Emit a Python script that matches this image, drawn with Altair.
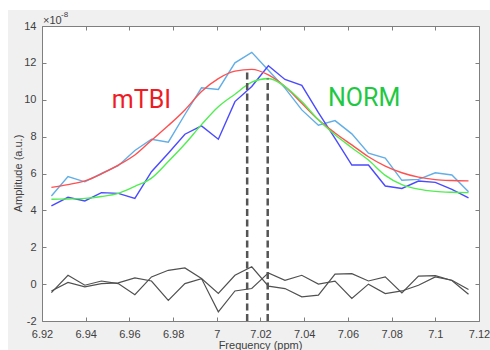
import altair as alt
import pandas as pd

# ---------------- data ----------------
freq = [6.9243, 6.9319, 6.9396, 6.9472, 6.9549, 6.9625, 6.9701, 6.9778, 6.9854, 6.9930,
        7.0007, 7.0083, 7.0160, 7.0236, 7.0312, 7.0389, 7.0465, 7.0541, 7.0618, 7.0694,
        7.0771, 7.0847, 7.0923, 7.1000, 7.1076, 7.1152]
mtbi_data = [4.78, 5.83, 5.55, 6.00, 6.42, 7.25, 7.86, 7.70, 9.20, 10.65, 10.56, 12.00, 12.57,
             11.60, 10.63, 9.45, 8.62, 8.87, 8.15, 7.10, 6.83, 5.63, 5.68, 6.04, 5.92, 5.01]
mtbi_fit = [5.25, 5.40, 5.60, 5.98, 6.45, 7.00, 7.80, 8.60, 9.45, 10.45, 11.15, 11.55, 11.65,
            11.35, 10.72, 9.81, 8.91, 8.20, 7.55, 6.91, 6.40, 6.04, 5.80, 5.67, 5.62, 5.60]
norm_data = [4.25, 4.71, 4.51, 4.96, 4.92, 4.65, 6.10, 7.10, 8.13, 8.58, 7.86, 9.90, 10.72,
             11.84, 11.10, 10.78, 9.30, 7.90, 6.46, 6.46, 5.32, 5.19, 5.59, 5.52, 5.14, 4.68]
norm_fit = [4.60, 4.62, 4.65, 4.75, 4.92, 5.30, 5.75, 6.65, 7.60, 8.65, 9.62, 10.30, 10.95,
            11.15, 10.72, 9.90, 8.91, 8.10, 7.40, 6.73, 5.90, 5.40, 5.15, 5.03, 4.98, 4.96]
resid_a = [-0.46, 0.48, -0.06, 0.17, 0.03, -0.57, 0.39, 0.75, 0.88, 0.30, -0.51, 0.48, 0.94,
           -0.11, -0.24, -0.69, -0.60, 0.54, 0.57, 0.17, 0.39, -0.48, 0.43, 0.46, 0.20, -0.55]
resid_b = [-0.37, 0.09, -0.15, 0.03, 0.07, 0.34, 0.17, -0.88, 0.03, 0.30, -1.50, -0.37, -0.24,
           0.61, 0.21, 0.48, 0.00, 0.16, -0.78, 0.00, -0.51, -0.37, -0.06, 0.39, 0.21, -0.29]

peak_freq = [7.0139, 7.0233]
peak_amp = [11.66, 11.15]
peak_base = [-2, -2]

label_text = ["mTBI", "NORM"]
label_freq = [6.9655, 7.0674]
label_amp = [9.97, 10.10]

x_ticks = [6.92, 6.94, 6.96, 6.98, 7.00, 7.02, 7.04, 7.06, 7.08, 7.10, 7.12]
y_ticks = [-2, 0, 2, 4, 6, 8, 10, 12, 14]

# ---------------- styling ----------------
FONT = "Liberation Sans"
TXT = "#404040"
FRAME = "#7f7f7f"

xs = alt.Scale(domain=[6.92, 7.12], nice=False, zero=False)
ys = alt.Scale(domain=[-2, 14], nice=False, zero=False)


def series_df(values):
    return pd.DataFrame({"freq": freq, "value": values})


def line(values, color, width=1.4, interp="linear"):
    return alt.Chart(series_df(values)).mark_line(
        color=color, strokeWidth=width, interpolate=interp
    ).encode(
        x=alt.X("freq:Q", scale=xs, axis=None),
        y=alt.Y("value:Q", scale=ys, axis=None),
    )


one = pd.DataFrame({"freq": [6.92], "value": [14]})

# figure-like white strips (top and left) over the grey figure background
strip_top = alt.Chart(one).mark_rect(color="white").encode(
    x=alt.value(-42), x2=alt.value(448), y=alt.value(-26), y2=alt.value(-16))
strip_left = alt.Chart(one).mark_rect(color="white").encode(
    x=alt.value(-42), x2=alt.value(-34), y=alt.value(-26), y2=alt.value(324))

# axis with labels (bottom/left)
label_axes = alt.Chart(series_df(mtbi_data)).mark_point(opacity=0).encode(
    x=alt.X("freq:Q", scale=xs, axis=alt.Axis(
        orient="bottom", values=x_ticks, labelExpr="format(datum.value, '.2~f')",
        ticks=False, domain=False, grid=False, labelPadding=7, labelFontSize=11,
        labelFont=FONT, labelColor=TXT, labelFlush=False, labelOverlap=False,
        title="Frequency (ppm)", titleFont=FONT, titleFontSize=11, titleFontWeight="normal",
        titleColor=TXT, titleX=218, titleY=24, titleBaseline="middle", zindex=1)),
    y=alt.Y("value:Q", scale=ys, axis=alt.Axis(
        orient="left", values=y_ticks, labelExpr="toString(datum.value)",
        ticks=False, domain=False, grid=False, labelPadding=6, labelFontSize=11,
        labelFont=FONT, labelColor=TXT, labelFlush=False, labelOverlap=False,
        title="Amplitude (a.u.)", titleFont=FONT, titleFontSize=11, titleFontWeight="normal",
        titleColor=TXT, titleX=-24, titleY=147, titleAlign="center", titleBaseline="middle",
        zindex=1)),
)

# inward ticks, bottom/left
ticks_bl = alt.Chart(series_df(mtbi_data)).mark_point(opacity=0).encode(
    x=alt.X("freq:Q", scale=xs, axis=alt.Axis(
        orient="bottom", offset=-4, values=x_ticks, labels=False, domain=False, grid=False,
        ticks=True, tickSize=4, tickColor=FRAME, title="", zindex=1)),
    y=alt.Y("value:Q", scale=ys, axis=alt.Axis(
        orient="left", offset=-4, values=y_ticks, labels=False, domain=False, grid=False,
        ticks=True, tickSize=4, tickColor=FRAME, title="", zindex=1)),
)
# inward ticks, top/right
ticks_tr = alt.Chart(series_df(mtbi_data)).mark_point(opacity=0).encode(
    x=alt.X("freq:Q", scale=xs, axis=alt.Axis(
        orient="top", offset=-4, values=x_ticks, labels=False, domain=False, grid=False,
        ticks=True, tickSize=4, tickColor=FRAME, title="", zindex=1)),
    y=alt.Y("value:Q", scale=ys, axis=alt.Axis(
        orient="right", offset=-4, values=y_ticks, labels=False, domain=False, grid=False,
        ticks=True, tickSize=4, tickColor=FRAME, title="", zindex=1)),
)

peaks = alt.Chart(pd.DataFrame({"freq": peak_freq, "amp": peak_amp, "base": peak_base})).mark_rule(
    color="#555555", strokeWidth=2.5, strokeDash=[7, 3.5]
).encode(
    x=alt.X("freq:Q", scale=xs, axis=None),
    y=alt.Y("base:Q", scale=ys, axis=None),
    y2="amp:Q",
)

labels = alt.Chart(pd.DataFrame({"freq": label_freq, "value": label_amp, "txt": label_text})).mark_text(
    fontSize=25, font="Liberation Sans Narrow, Roboto, Liberation Sans", align="center", baseline="middle"
).encode(
    x=alt.X("freq:Q", scale=xs, axis=None),
    y=alt.Y("value:Q", scale=ys, axis=None),
    text="txt:N",
    color=alt.Color("txt:N", scale=alt.Scale(domain=label_text, range=["#ee1c24", "#1fc843"]), legend=None),
)

exp_base = alt.Chart(one).mark_text(
    text="×10", align="left", baseline="middle", dx=1, dy=-5, fontSize=11, font=FONT, color=TXT
).encode(x=alt.X("freq:Q", scale=xs, axis=None), y=alt.Y("value:Q", scale=ys, axis=None))
exp_pow = alt.Chart(one).mark_text(
    text="-8", align="left", baseline="middle", dx=19, dy=-11, fontSize=8, font=FONT, color=TXT
).encode(x=alt.X("freq:Q", scale=xs, axis=None), y=alt.Y("value:Q", scale=ys, axis=None))

chart = alt.layer(
    strip_top, strip_left,
    label_axes, ticks_bl, ticks_tr,
    line(resid_a, "#505050", 1.2),
    line(resid_b, "#505050", 1.2),
    line(mtbi_data, "#62aee6"),
    line(norm_data, "#4a4aff"),
    line(mtbi_fit, "#ff5050", 1.4, "monotone"),
    line(norm_fit, "#50ee50", 1.4, "monotone"),
    peaks, labels, exp_base, exp_pow,
).resolve_axis(
    x="independent", y="independent"
).properties(
    width=437, height=295,
    autosize=alt.AutoSizeParams(type="none"),
    padding={"left": 42, "top": 26, "right": 11, "bottom": 29},
    background="#f0f0f0",
).configure_view(
    stroke=FRAME, strokeWidth=1, fill="white"
)

chart.save("out.html", embed_options={"renderer": "svg", "actions": False})
